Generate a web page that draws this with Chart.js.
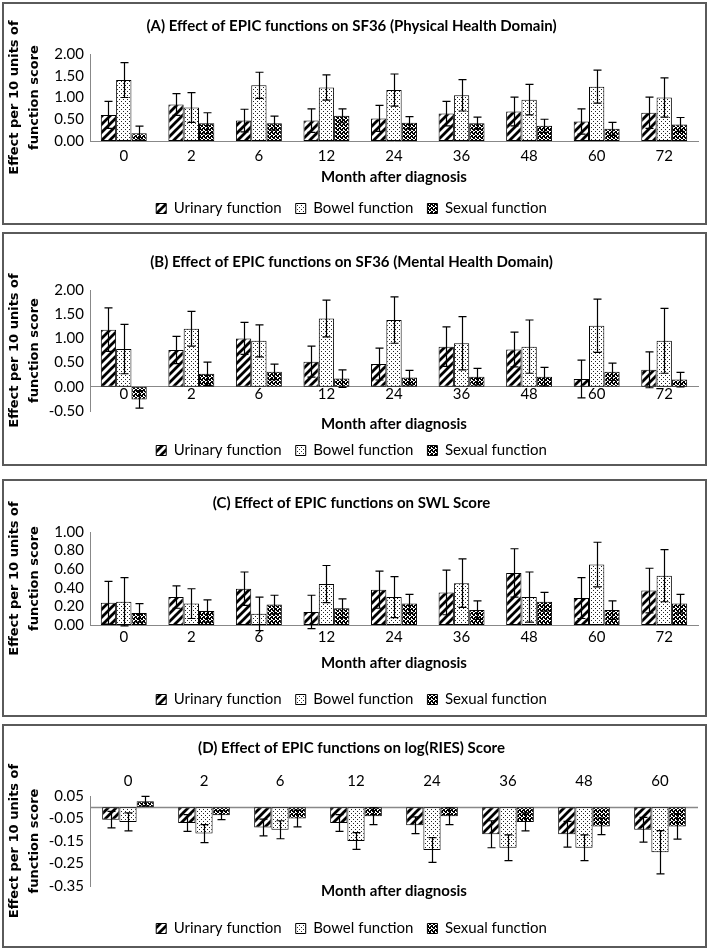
<!DOCTYPE html>
<html>
<head>
<meta charset="utf-8">
<script src="https://cdn.jsdelivr.net/npm/chart.js@4.4.1/dist/chart.umd.min.js"></script>
<style>
  body { margin: 0; background: #fff; }
  #page { position: relative; width: 709px; height: 949px; overflow: hidden; }
  canvas { position: absolute; left: 5px; }
  .box { position: absolute; left: 2px; width: 705px; border: 2px solid #5a5a5a; box-sizing: border-box; }
</style>
</head>
<body>
<div id="page">
  <canvas id="chartA" width="699" height="221" style="top:5px"></canvas>
  <canvas id="chartB" width="699" height="233" style="top:235px"></canvas>
  <canvas id="chartC" width="699" height="235" style="top:482px"></canvas>
  <canvas id="chartD" width="699" height="219" style="top:727px"></canvas>
  <div class="box" style="top:2px;height:223px"></div>
  <div class="box" style="top:232px;height:234px"></div>
  <div class="box" style="top:479px;height:238px"></div>
  <div class="box" style="top:724px;height:224px"></div>
</div>
<script>
// data

const months = ['0', '2', '6', '12', '24', '36', '48', '60', '72']
const monthsD = ['0', '2', '6', '12', '24', '36', '48', '60']

// (A) SF36 physical
const aTicks = [0, 0.5, 1, 1.5, 2]
const aUrinary = [0.60, 0.84, 0.47, 0.47, 0.52, 0.63, 0.68, 0.45, 0.65]
const aUrinaryErr = [0.31, 0.25, 0.26, 0.27, 0.30, 0.28, 0.33, 0.29, 0.36]
const aBowel = [1.40, 0.77, 1.28, 1.23, 1.17, 1.05, 0.95, 1.25, 1.00]
const aBowelErr = [0.40, 0.34, 0.30, 0.29, 0.37, 0.36, 0.35, 0.38, 0.45]
const aSexual = [0.18, 0.41, 0.41, 0.58, 0.42, 0.41, 0.35, 0.28, 0.38]
const aSexualErr = [0.16, 0.24, 0.16, 0.16, 0.14, 0.14, 0.15, 0.15, 0.16]

// (B) SF36 mental
const bTicks = [-0.5, 0, 0.5, 1, 1.5, 2]
const bUrinary = [1.18, 0.76, 1.00, 0.52, 0.47, 0.83, 0.77, 0.16, 0.35]
const bUrinaryErr = [0.45, 0.28, 0.33, 0.32, 0.33, 0.41, 0.36, 0.39, 0.37]
const bBowel = [0.78, 1.20, 0.95, 1.41, 1.38, 0.90, 0.83, 1.26, 0.95]
const bBowelErr = [0.51, 0.36, 0.33, 0.38, 0.48, 0.55, 0.55, 0.55, 0.67]
const bSexual = [-0.26, 0.27, 0.31, 0.17, 0.19, 0.21, 0.21, 0.31, 0.15]
const bSexualErr = [0.18, 0.24, 0.16, 0.18, 0.15, 0.17, 0.19, 0.18, 0.15]

// (C) SWL score
const cTicks = [0, 0.2, 0.4, 0.6, 0.8, 1]
const cUrinary = [0.24, 0.30, 0.39, 0.14, 0.38, 0.35, 0.56, 0.29, 0.37]
const cUrinaryErr = [0.23, 0.12, 0.18, 0.18, 0.20, 0.24, 0.26, 0.22, 0.24]
const cBowel = [0.25, 0.23, 0.12, 0.44, 0.30, 0.45, 0.30, 0.65, 0.53]
const cBowelErr = [0.26, 0.16, 0.18, 0.20, 0.22, 0.26, 0.27, 0.24, 0.28]
const cSexual = [0.13, 0.15, 0.22, 0.18, 0.23, 0.16, 0.25, 0.16, 0.23]
const cSexualErr = [0.10, 0.12, 0.10, 0.10, 0.10, 0.10, 0.10, 0.10, 0.10]

// (D) log(RIES) score
const dTicks = [-0.35, -0.25, -0.15, -0.05, 0.05]
const dUrinary = [-0.055, -0.07, -0.09, -0.07, -0.08, -0.12, -0.12, -0.10]
const dUrinaryErr = [0.037, 0.037, 0.037, 0.037, 0.037, 0.06, 0.057, 0.055]
const dBowel = [-0.065, -0.117, -0.10, -0.15, -0.19, -0.18, -0.18, -0.20]
const dBowelErr = [0.04, 0.04, 0.04, 0.037, 0.055, 0.057, 0.057, 0.096]
const dSexual = [0.027, -0.035, -0.05, -0.04, -0.04, -0.065, -0.085, -0.085]
const dSexualErr = [0.021, 0.02, 0.037, 0.037, 0.037, 0.04, 0.037, 0.057]

const yTitle = ['Effect per 10 units of', 'function score']
const xTitle = 'Month after diagnosis'

// look

const axisGray = '#888888'
const tickFont = {family: 'Lato', size: 15}
const legendFont = {family: 'Lato', size: 15}
const titleFont = {family: 'Lato', size: 15, weight: 'bold'}
const axisTitleFont = {family: 'Lato', size: 15, weight: 'bold'}
const yTitleFont = {family: 'DejaVu Sans', size: 13, weight: 'bold', lineHeight: 1.54}

function tile(size, draw) {
    const c = document.createElement('canvas')
    c.width = size
    c.height = size
    const g = c.getContext('2d')
    draw(g)
    return g.createPattern(c, 'repeat')
}

const urinaryFill = tile(8, g => {
    g.fillStyle = '#fff'
    g.fillRect(0, 0, 8, 8)
    g.strokeStyle = '#000'
    g.lineWidth = 2.8
    g.beginPath()
    g.moveTo(-2, 10); g.lineTo(10, -2)
    g.moveTo(-6, 6); g.lineTo(6, -6)
    g.moveTo(2, 14); g.lineTo(14, 2)
    g.stroke()
})

const bowelFill = tile(4, g => {
    g.fillStyle = '#fff'
    g.fillRect(0, 0, 4, 4)
    g.fillStyle = '#222'
    g.fillRect(0, 0, 1, 1)
    g.fillRect(2, 2, 1, 1)
})

const sexualFill = tile(4, g => {
    g.fillStyle = '#fff'
    g.fillRect(0, 0, 4, 4)
    g.fillStyle = '#000'
    g.fillRect(0, 0, 2, 2)
    g.fillRect(2, 2, 2, 2)
    g.fillRect(3, 0, 1, 1)
    g.fillRect(1, 3, 1, 1)
})

// symmetric error bars drawn through the y scale
const errorBars = {
    id: 'errorBars',
    afterDatasetsDraw(chart) {
        const ctx = chart.ctx
        const y = chart.scales.y
        ctx.save()
        ctx.strokeStyle = '#000'
        ctx.lineWidth = 1.2
        chart.data.datasets.forEach((ds, i) => {
            chart.getDatasetMeta(i).data.forEach((bar, j) => {
                const hi = y.getPixelForValue(ds.data[j] + ds.err[j])
                const lo = y.getPixelForValue(ds.data[j] - ds.err[j])
                const x = Math.round(bar.x) + 0.5
                ctx.beginPath()
                ctx.moveTo(x, hi); ctx.lineTo(x, lo)
                ctx.moveTo(x - 4, hi); ctx.lineTo(x + 4, hi)
                ctx.moveTo(x - 4, lo); ctx.lineTo(x + 4, lo)
                ctx.stroke()
            })
        })
        ctx.restore()
    }
}

// horizontal line at zero for panel D
const zeroLine = {
    id: 'zeroLine',
    beforeDatasetsDraw(chart) {
        const ctx = chart.ctx
        const a = chart.chartArea
        const y0 = Math.round(chart.scales.y.getPixelForValue(0)) + 0.5
        ctx.save()
        ctx.strokeStyle = axisGray
        ctx.lineWidth = 1.5
        ctx.beginPath()
        ctx.moveTo(a.left, y0); ctx.lineTo(a.right, y0)
        ctx.stroke()
        ctx.restore()
    }
}

function series(u, ue, b, be, s, se) {
    const common = {borderColor: '#000', borderWidth: 1, borderSkipped: false,
        categoryPercentage: 0.68, barPercentage: 1.0}
    return [
        Object.assign({label: 'Urinary function', data: u, err: ue, backgroundColor: urinaryFill}, common),
        Object.assign({label: 'Bowel function', data: b, err: be, backgroundColor: bowelFill}, common),
        Object.assign({label: 'Sexual function', data: s, err: se, backgroundColor: sexualFill}, common)
    ]
}

function makePanel(id, labels, sets, ticks, p) {
    const scales = {
        x: {
            position: p.xPos,
            grid: {display: false, drawTicks: false},
            border: {display: p.xBorder, color: axisGray, width: 1},
            ticks: {font: tickFont, color: '#000', padding: p.xTickPad, maxRotation: 0, autoSkip: false},
            title: {display: !p.separateTitle, text: xTitle, font: axisTitleFont, color: '#000', padding: p.xTitlePad}
        },
        y: {
            min: Math.min(...ticks),
            max: Math.max(...ticks),
            afterBuildTicks: s => { s.ticks = ticks.map(v => ({value: v})) },
            afterFit: s => { s.width = 85 },
            grid: {display: false, drawTicks: false},
            border: {color: axisGray, width: 1},
            ticks: {font: tickFont, color: '#000', padding: 6, autoSkip: false, callback: v => v.toFixed(2)},
            title: {display: true, text: yTitle, font: yTitleFont, color: '#000', padding: {top: 0, bottom: 0}}
        }
    }
    if (p.separateTitle) {
        scales.x2 = {
            type: 'category',
            position: 'bottom',
            grid: {display: false, drawTicks: false},
            border: {display: false},
            ticks: {display: false},
            title: {display: true, text: xTitle, font: axisTitleFont, color: '#000', padding: p.xTitlePad}
        }
    }
    return new Chart(document.getElementById(id).getContext('2d'), {
        type: 'bar',
        data: {labels: labels, datasets: sets},
        options: {
            responsive: false,
            animation: false,
            layout: {padding: {right: 6}},
            scales: scales,
            plugins: {
                title: {display: true, text: p.title, font: titleFont, color: '#000', padding: p.titlePad},
                legend: {position: 'bottom', labels: {font: legendFont, color: '#000', boxWidth: 10, boxHeight: 10, padding: 14}},
                tooltip: {enabled: false}
            }
        },
        plugins: p.zero ? [zeroLine, errorBars] : [errorBars]
    })
}

makePanel('chartA', months, series(aUrinary, aUrinaryErr, aBowel, aBowelErr, aSexual, aSexualErr), aTicks, {
    title: '(A) Effect of EPIC functions on SF36 (Physical Health Domain)',
    titlePad: {top: 12, bottom: 19},
    xPos: 'bottom', xBorder: true, xTickPad: 6,
    xTitlePad: {top: -3, bottom: 1}
})

makePanel('chartB', months, series(bUrinary, bUrinaryErr, bBowel, bBowelErr, bSexual, bSexualErr), bTicks, {
    title: '(B) Effect of EPIC functions on SF36 (Mental Health Domain)',
    titlePad: {top: 18, bottom: 19},
    xPos: {y: 0}, xBorder: true, xTickPad: -2,
    separateTitle: true,
    xTitlePad: {top: 4, bottom: -4}
})

makePanel('chartC', months, series(cUrinary, cUrinaryErr, cBowel, cBowelErr, cSexual, cSexualErr), cTicks, {
    title: '(C) Effect of EPIC functions on SWL Score',
    titlePad: {top: 12, bottom: 20},
    xPos: 'bottom', xBorder: true, xTickPad: 3,
    xTitlePad: {top: 5, bottom: 6}
})

makePanel('chartD', monthsD, series(dUrinary, dUrinaryErr, dBowel, dBowelErr, dSexual, dSexualErr), dTicks, {
    title: '(D) Effect of EPIC functions on log(RIES) Score',
    titlePad: {top: 12, bottom: 9},
    xPos: 'top', xBorder: false, xTickPad: 6,
    separateTitle: true, zero: true,
    xTitlePad: {top: -4, bottom: 7}
})
</script>
</body>
</html>
